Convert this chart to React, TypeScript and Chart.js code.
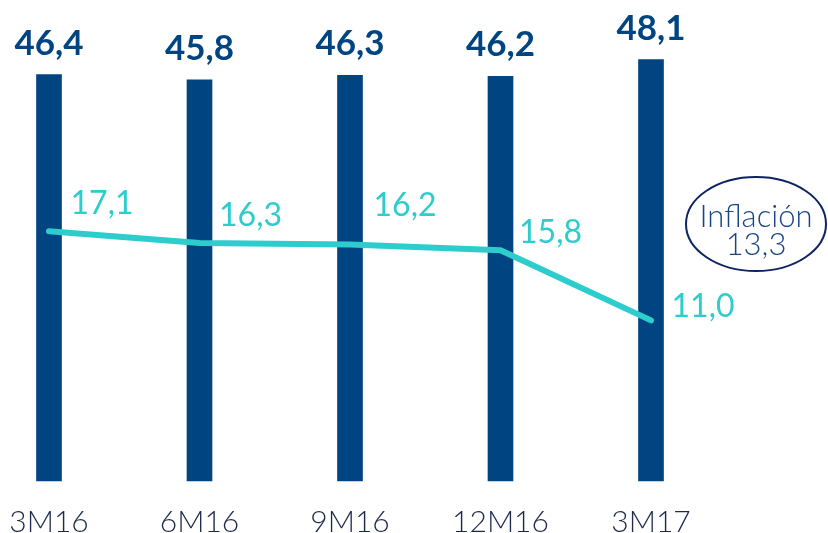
import React, { useEffect, useRef } from "react";
import { Chart, registerables } from "chart.js";

Chart.register(...registerables);

const categories = ["3M16", "6M16", "9M16", "12M16", "3M17"];
const barValues = [46.4, 45.8, 46.3, 46.2, 48.1];
const lineValues = [17.1, 16.3, 16.2, 15.8, 11.0];
const inflationLabel = "Inflación";
const inflationValue = 13.3;

const NAVY = "#004481";
const AQUA = "#2dcccd";
const FONT = "Lato, 'Open Sans', sans-serif";

const fmt = (v: number) => v.toFixed(1).replace(".", ",");

// label offsets (style only) for the line labels
const lineLabelOffsets = [
  [53, -17],
  [51, -17],
  [55, -28],
  [50, -7],
  [52, -3],
];

const labelsPlugin = {
  id: "labelsPlugin",
  afterDraw(chart: any) {
    const ctx = chart.ctx;
    const xs = chart.scales.x;
    ctx.save();
    // bar value labels
    const barMeta = chart.getDatasetMeta(0);
    ctx.font = `bold 35px ${FONT}`;
    ctx.fillStyle = NAVY;
    ctx.textAlign = "center";
    ctx.textBaseline = "alphabetic";
    barMeta.data.forEach((el: any, i: number) => {
      ctx.fillText(fmt(barValues[i]), el.x, el.y - 20);
    });
    // line labels
    const lineMeta = chart.getDatasetMeta(1);
    ctx.font = `normal 32px ${FONT}`;
    ctx.fillStyle = AQUA;
    lineMeta.data.forEach((el: any, i: number) => {
      const [dx, dy] = lineLabelOffsets[i];
      ctx.fillText(fmt(lineValues[i]), el.x + dx, el.y + dy);
    });
    // category labels
    ctx.font = `300 30px ${FONT}`;
    ctx.fillStyle = "#1d2a4c";
    categories.forEach((c, i) => {
      ctx.fillText(c, xs.getPixelForValue(i), 532);
    });
    // inflation ellipse
    const cx = 756;
    const cy = 224;
    ctx.beginPath();
    ctx.ellipse(cx, cy, 70, 47, 0, 0, Math.PI * 2);
    ctx.lineWidth = 2;
    ctx.strokeStyle = "#0c2364";
    ctx.stroke();
    ctx.font = `300 31px ${FONT}`;
    ctx.fillStyle = "#1a4585";
    ctx.fillText(inflationLabel, cx, 227);
    ctx.fillText(fmt(inflationValue), cx, 255);
    ctx.restore();
  },
};

export default function App() {
  const ref = useRef<HTMLCanvasElement | null>(null);
  useEffect(() => {
    if (!ref.current) return;
    const chart = new Chart(ref.current, {
      type: "bar",
      data: {
        labels: categories,
        datasets: [
          {
            type: "bar",
            data: barValues,
            backgroundColor: NAVY,
            barThickness: 25,
            yAxisID: "y",
            order: 2,
            clip: false as any,
          },
          {
            type: "line",
            data: lineValues,
            borderColor: AQUA,
            borderWidth: 6,
            pointRadius: 0,
            tension: 0,
            borderCapStyle: "round",
            borderJoinStyle: "round",
            yAxisID: "y2",
            order: 1,
            clip: false as any,
          } as any,
        ],
      },
      options: {
        responsive: false,
        animation: false,
        maintainAspectRatio: false,
        layout: { padding: { left: 49, right: 177, top: 43, bottom: 52 } },
        plugins: { legend: { display: false }, tooltip: { enabled: false } },
        scales: {
          x: { display: false, offset: false },
          y: { display: false, min: 0, max: 50 },
          y2: { display: false, min: 0, max: 30 },
        },
      },
      plugins: [labelsPlugin],
    });
    return () => chart.destroy();
  }, []);
  return (
    <div style={{ position: "fixed", left: 0, top: 0, width: 828, height: 533, background: "#fff" }}>
      <canvas ref={ref} width={828} height={533} style={{ display: "block" }} />
    </div>
  );
}
